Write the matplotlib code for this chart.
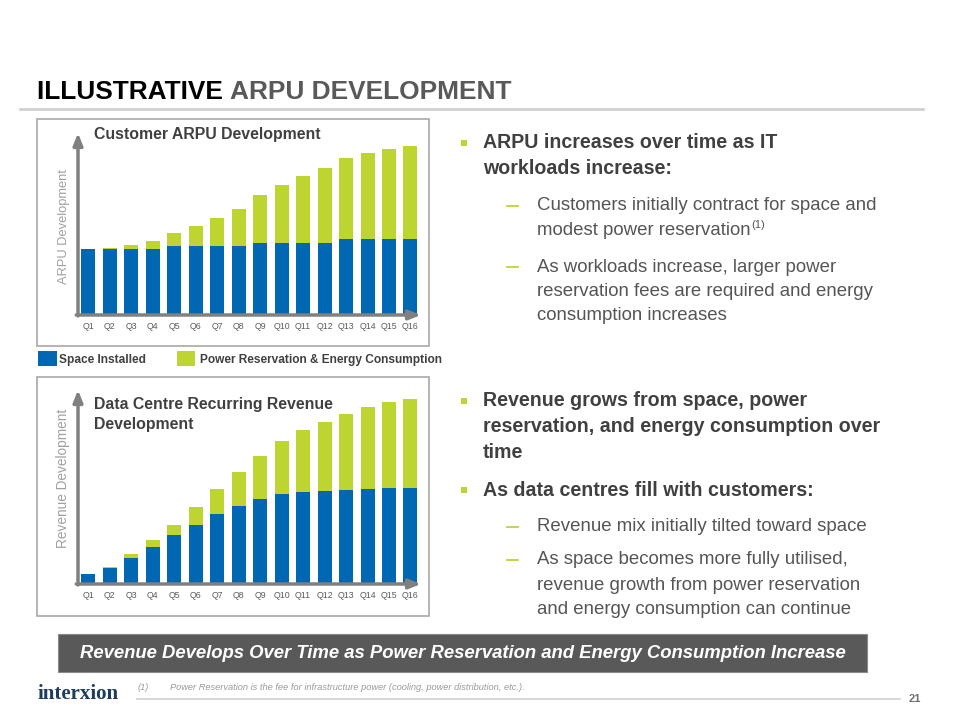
import matplotlib
matplotlib.use("Agg")
import matplotlib.pyplot as plt
from matplotlib.patches import Rectangle
from matplotlib.lines import Line2D

plt.rcParams['font.family'] = ['Liberation Sans', 'DejaVu Sans']

# ---------------- data ----------------
quarters = ["Q1", "Q2", "Q3", "Q4", "Q5", "Q6", "Q7", "Q8",
            "Q9", "Q10", "Q11", "Q12", "Q13", "Q14", "Q15", "Q16"]
arpu_space = [197, 197, 197, 197, 207, 207, 207, 207, 217, 217, 217, 217, 227, 227, 227, 227]
arpu_power = [0, 3, 12, 24, 40, 60, 83, 110, 143, 172, 200, 224, 245, 260, 272, 280]
rev_space = [31, 48, 79, 112, 146, 178, 211, 234, 254, 270, 276, 280, 282, 286, 289, 289]
rev_power = [0, 2, 11, 21, 32, 52, 75, 102, 131, 159, 186, 207, 228, 244, 257, 267]

legend_labels = ["Space Installed", "Power Reservation & Energy Consumption"]

BLUE = "#0068B2"
GREEN = "#BDD431"
DARK = "#404040"
MID = "#555555"

W, H = 960, 720
fig = plt.figure(figsize=(9.6, 7.2), dpi=100)


def fx(x):
    return x / W


def fy(y):
    return 1 - y / H


def ftext(x, y, s, **kw):
    return fig.text(fx(x), fy(y), s, **kw)


renderer = fig.canvas.get_renderer()

# ---------------- title ----------------
t1 = ftext(37, 92, "ILLUSTRATIVE ", fontsize=18.9, fontweight="bold", color="black", va="center")
bb = t1.get_window_extent(renderer)
fig.text(bb.x1 / W, fy(92), "ARPU DEVELOPMENT", fontsize=18.9, fontweight="bold",
         color="#595959", va="center")
fig.add_artist(Line2D([fx(20), fx(923)], [fy(109), fy(109)], color="#d0d0d0", lw=2))

# ---------------- panels ----------------
for (x0, y0, x1, y1) in [(37, 119, 429, 346), (37, 377, 429, 616)]:
    fig.add_artist(Rectangle((fx(x0), fy(y1)), fx(x1) - fx(x0), fy(y0) - fy(y1),
                             fill=False, edgecolor="#a8a8a8", lw=1.2))


def bar_chart(rect_px, ymax, space, power, ylabel, ylab_xy, ylab_fs, title_lines, title_y):
    left, top, right, bottom = rect_px
    ax = fig.add_axes([fx(left), fy(bottom), fx(right) - fx(left), fy(top) - fy(bottom)])
    x = list(range(len(quarters)))
    ax.bar(x, space, width=0.65, color=BLUE, zorder=2)
    ax.bar(x, power, width=0.65, bottom=space, color=GREEN, zorder=2)
    ax.set_xlim(-0.48, 15.49)
    ax.set_ylim(0, ymax)
    ax.set_xticks(x)
    ax.set_xticklabels(quarters, fontsize=6.3, color="#5a5a5a")
    ax.tick_params(axis="x", length=0, pad=5)
    ax.set_yticks([])
    for s in ax.spines.values():
        s.set_visible(False)
    ax.patch.set_alpha(0)
    arrow = dict(arrowstyle="-|>,head_width=0.28,head_length=0.7", color="#808080",
                 lw=2.5, shrinkA=0, shrinkB=0)
    ax.annotate("", xy=(0, 1), xytext=(0, -0.005), xycoords="axes fraction", arrowprops=arrow)
    ax.annotate("", xy=(1, 0), xytext=(-0.005, 0), xycoords="axes fraction", arrowprops=arrow)
    ftext(ylab_xy[0], ylab_xy[1], ylabel, rotation=90, fontsize=ylab_fs, color="#a0a0a0",
          ha="center", va="center")
    for i, line in enumerate(title_lines):
        ftext(94, title_y + i * 19.5, line, fontsize=11.4, fontweight="bold", color=DARK,
              va="center")
    return ax


bar_chart((78, 133, 421, 315), 546, arpu_space, arpu_power, "ARPU Development",
          (64, 227), 9.3, ["Customer ARPU Development"], 135)
bar_chart((78, 390, 421, 584), 582, rev_space, rev_power, "Revenue Development",
          (63, 478), 9.8, ["Data Centre Recurring Revenue", "Development"], 405)

# ---------------- legend ----------------
fig.add_artist(Rectangle((fx(38), fy(365.5)), fx(57) - fx(38), fy(351.5) - fy(365.5),
                         color=BLUE, lw=0))
fig.add_artist(Rectangle((fx(177), fy(365.5)), fx(195) - fx(177), fy(351.5) - fy(365.5),
                         color=GREEN, lw=0))
ftext(59, 359.5, legend_labels[0], fontsize=8.6, fontweight="bold", color=DARK, va="center")
ftext(200, 359.5, legend_labels[1], fontsize=8.6, fontweight="bold", color=DARK, va="center")

# ---------------- bullets ----------------
def bullet(y):
    fig.add_artist(Rectangle((fx(460.5), fy(y + 3)), 6 / W, 6 / H, color=GREEN, lw=0))


def dash(y):
    fig.add_artist(Line2D([fx(507), fx(518)], [fy(y), fy(y)], color=GREEN, lw=1.3))


BOLD_FS = 14.15
REG_FS = 13.4

bullet(143)
ftext(483, 143, "ARPU increases over time as IT", fontsize=BOLD_FS, fontweight="bold", color=DARK, va="center")
ftext(483, 168.5, "workloads increase:", fontsize=BOLD_FS, fontweight="bold", color=DARK, va="center")

dash(206)
ftext(537, 206, "Customers initially contract for space and", fontsize=REG_FS, color=MID, va="center")
tm = ftext(537, 230.5, "modest power reservation", fontsize=REG_FS, color=MID, va="center")
bbm = tm.get_window_extent(renderer)
fig.text(bbm.x1 / W + 0.001, fy(225), "(1)", fontsize=8, color=MID, va="center")

dash(267)
ftext(537, 267, "As workloads increase, larger power", fontsize=REG_FS, color=MID, va="center")
ftext(537, 291, "reservation fees are required and energy", fontsize=REG_FS, color=MID, va="center")
ftext(537, 315, "consumption increases", fontsize=REG_FS, color=MID, va="center")

bullet(400.5)
ftext(483, 400.5, "Revenue grows from space, power", fontsize=BOLD_FS, fontweight="bold", color=DARK, va="center")
ftext(483, 426.5, "reservation, and energy consumption over", fontsize=BOLD_FS, fontweight="bold", color=DARK, va="center")
ftext(483, 452.5, "time", fontsize=BOLD_FS, fontweight="bold", color=DARK, va="center")
bullet(490)
ftext(483, 490, "As data centres fill with customers:", fontsize=BOLD_FS, fontweight="bold", color=DARK, va="center")

dash(526.5)
ftext(537, 526.5, "Revenue mix initially tilted toward space", fontsize=REG_FS, color=MID, va="center")
dash(560)
ftext(537, 560, "As space becomes more fully utilised,", fontsize=REG_FS, color=MID, va="center")
ftext(537, 585, "revenue growth from power reservation", fontsize=REG_FS, color=MID, va="center")
ftext(537, 610, "and energy consumption can continue", fontsize=REG_FS, color=MID, va="center")

# ---------------- banner ----------------
fig.add_artist(Rectangle((fx(58), fy(672)), fx(867) - fx(58), fy(634) - fy(672),
                         facecolor="#595959", edgecolor="#8a8a8a", lw=0.8))
ftext(463, 654, "Revenue Develops Over Time as Power Reservation and Energy Consumption Increase",
      fontsize=13.35, fontweight="bold", fontstyle="italic", color="white", ha="center", va="center")

# ---------------- footer ----------------
ftext(38, 694, "interxion", fontsize=15, fontweight="bold", color="#1d3c5e", va="center",
      family=["Liberation Serif", "DejaVu Serif"])
ftext(138, 687, "(1)", fontsize=6.65, fontstyle="italic", color="#9a9a9a", va="center")
ftext(170, 687, "Power Reservation is the fee for infrastructure power (cooling, power distribution, etc.).",
      fontsize=6.65, fontstyle="italic", color="#9a9a9a", va="center")
fig.add_artist(Line2D([fx(137), fx(900)], [fy(699), fy(699)], color="#d0d0d0", lw=1.2))
ftext(909, 699, "21", fontsize=8, fontweight="bold", color="#707070", va="center")

fig.savefig("out.png", dpi=100)
